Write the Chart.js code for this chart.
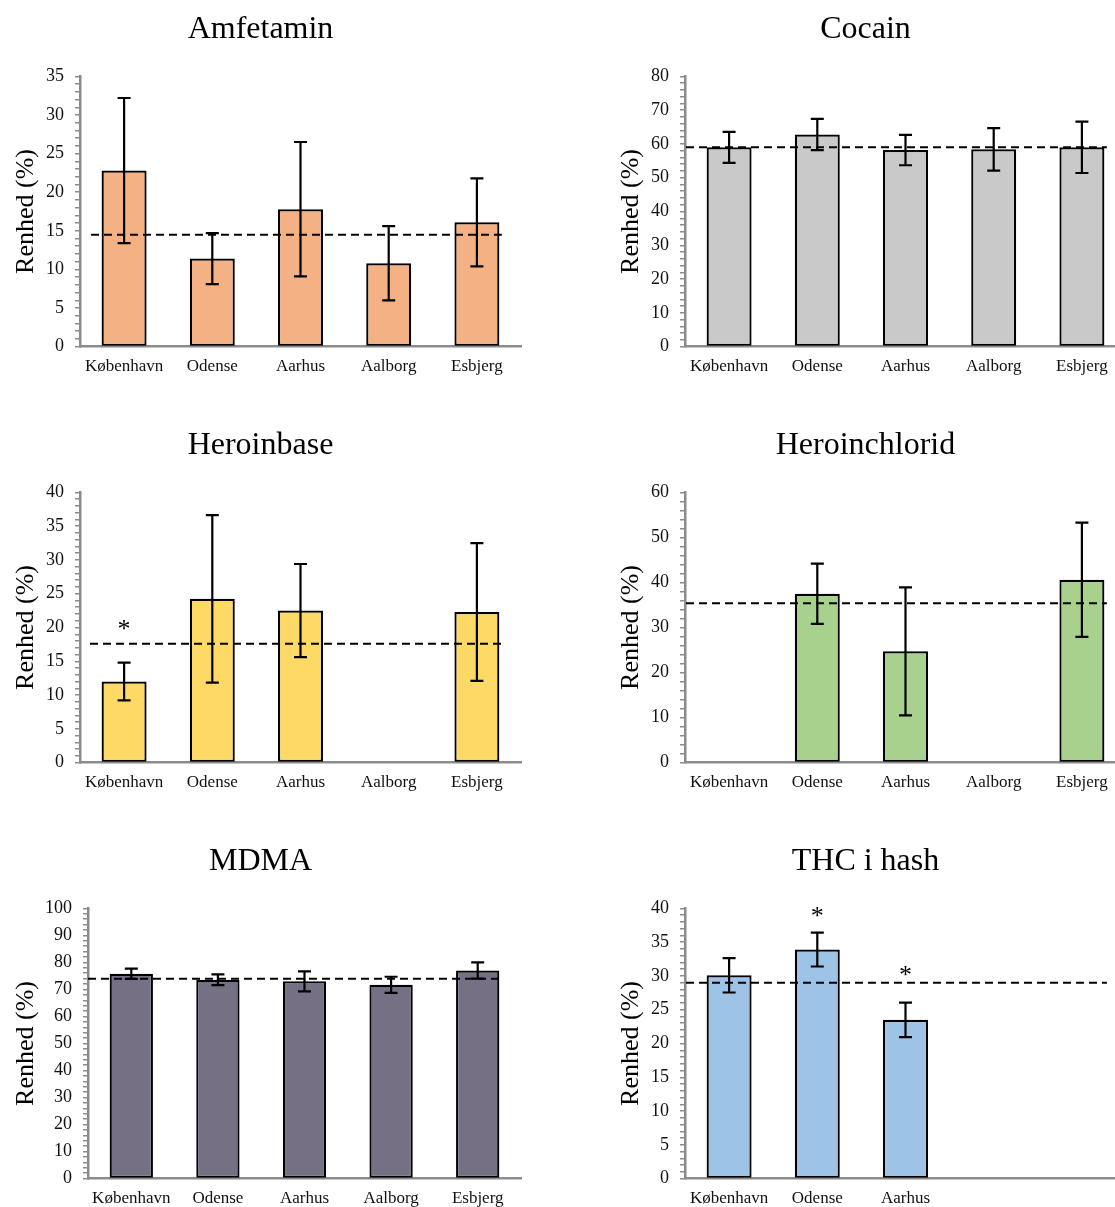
<!DOCTYPE html>
<html><head><meta charset="utf-8">
<script src="https://cdn.jsdelivr.net/npm/chart.js@4.4.0/dist/chart.umd.min.js"></script>
<style>
html,body{margin:0;padding:0;background:#fff;overflow:hidden;width:1115px;height:1207px;position:relative;}
canvas{position:absolute;}
</style></head><body>
<canvas id="c1" width="525" height="416" style="left:0;top:0"></canvas>
<canvas id="c2" width="525" height="416" style="left:605px;top:0"></canvas>
<canvas id="c3" width="525" height="416" style="left:0;top:416px"></canvas>
<canvas id="c4" width="525" height="416" style="left:605px;top:416px"></canvas>
<canvas id="c5" width="525" height="416" style="left:0;top:832px"></canvas>
<canvas id="c6" width="525" height="416" style="left:605px;top:832px"></canvas>
<script>
// ---- data ----
const cities = ['København', 'Odense', 'Aarhus', 'Aalborg', 'Esbjerg'];
const thcLabels = ['København', 'Odense', 'Aarhus', '', ''];

const amfetaminValues = [22.8, 11.4, 17.8, 10.8, 16.1];
const amfetaminErrors = [9.4, 3.3, 8.7, 4.8, 5.7];
const amfetaminMean = 14.5;
const amfetaminStars = [null, null, null, null, null];
const amfetaminTicks = [0, 35, 5, 1]; // min, max, major step, minor step

const cocainValues = [59.0, 62.8, 58.2, 58.4, 59.0];
const cocainErrors = [4.6, 4.65, 4.5, 6.3, 7.6];
const cocainMean = 59.0;
const cocainStars = [null, null, null, null, null];
const cocainTicks = [0, 80, 10, 2];

const heroinbaseValues = [12.0, 24.25, 22.5, null, 22.3];
const heroinbaseErrors = [2.8, 12.4, 6.9, null, 10.2];
const heroinbaseMean = 17.6;
const heroinbaseStars = [20.4, null, null, null, null];
const heroinbaseTicks = [0, 40, 5, 1];

const heroinchloridValues = [null, 37.5, 24.7, null, 40.6];
const heroinchloridErrors = [null, 6.7, 14.2, null, 12.7];
const heroinchloridMean = 35.4;
const heroinchloridStars = [null, null, null, null, null];
const heroinchloridTicks = [0, 60, 10, 2];

const mdmaValues = [75.8, 73.6, 73.0, 71.7, 77.0];
const mdmaErrors = [1.9, 2.0, 3.7, 3.0, 3.0];
const mdmaMean = 74.0;
const mdmaStars = [null, null, null, null, null];
const mdmaTicks = [0, 100, 10, 2];

const thcValues = [30.1, 33.9, 23.5, null, null];
const thcErrors = [2.55, 2.5, 2.55, null, null];
const thcMean = 29.0;
const thcStars = [null, 39.4, 30.7, null, null];
const thcTicks = [0, 40, 5, 1];

// ---- drawing ----
const SERIF = "'Liberation Serif', 'Times New Roman', serif";

function makeChart(id, cfg) {
  const [yMin, yMax, yMajor, yMinor] = cfg.ticks;
  const overlay = {
    id: 'overlay' + id,
    afterDatasetsDraw(chart) {
      const ctx = chart.ctx;
      const xs = chart.scales.x, ys = chart.scales.y;
      const meta = chart.getDatasetMeta(0);
      ctx.save();
      // mean line
      const ym = ys.getPixelForValue(cfg.mean);
      const xStart = chart.chartArea.left + cfg.lineStart;
      const xEnd = xs.getPixelForValue(cfg.labels.length - 1) + 25;
      ctx.strokeStyle = '#000';
      ctx.lineWidth = 2;
      ctx.setLineDash([8, 5]);
      ctx.beginPath(); ctx.moveTo(xStart, ym); ctx.lineTo(xEnd, ym); ctx.stroke();
      ctx.setLineDash([]);
      // error bars
      ctx.lineWidth = 2.2;
      meta.data.forEach((bar, i) => {
        const v = cfg.values[i], e = cfg.errors[i];
        if (v == null || e == null) return;
        const bx = xs.getPixelForValue(i);
        const yt = ys.getPixelForValue(v + e), yb = ys.getPixelForValue(v - e);
        ctx.beginPath();
        ctx.moveTo(bx, yt); ctx.lineTo(bx, yb);
        ctx.moveTo(bx - 6.5, yt); ctx.lineTo(bx + 6.5, yt);
        ctx.moveTo(bx - 6.5, yb); ctx.lineTo(bx + 6.5, yb);
        ctx.stroke();
      });
      // significance stars
      ctx.fillStyle = '#000';
      ctx.font = '26px ' + SERIF;
      ctx.textAlign = 'center';
      ctx.textBaseline = 'alphabetic';
      cfg.stars.forEach((s, i) => {
        if (s == null) return;
        const m = ctx.measureText('*');
        const py = ys.getPixelForValue(s);
        const off = (m.actualBoundingBoxAscent - m.actualBoundingBoxDescent) / 2;
        ctx.fillText('*', xs.getPixelForValue(i), py + off);
      });
      ctx.restore();
    }
  };
  const isMajor = v => Math.abs(v / yMajor - Math.round(v / yMajor)) < 1e-6;
  return new Chart(document.getElementById(id), {
    type: 'bar',
    data: {
      labels: cfg.labels,
      datasets: [{
        data: cfg.values,
        backgroundColor: cfg.color,
        borderColor: '#000',
        borderWidth: 2.2,
        borderSkipped: false,
        barPercentage: cfg.barPct,
        categoryPercentage: 1
      }]
    },
    options: {
      responsive: false,
      animation: false,
      devicePixelRatio: 1,
      layout: { padding: { left: 0, right: 4, top: 0, bottom: 29 } },
      plugins: {
        legend: { display: false },
        tooltip: { enabled: false },
        title: {
          display: true, text: cfg.title, color: '#000',
          font: { family: SERIF, size: 32, weight: 'normal' },
          padding: { top: 10, bottom: 28 }
        }
      },
      scales: {
        x: {
          z: 1,
          grid: { display: false, drawTicks: false },
          border: { color: '#8c8c8c', width: 2.5 },
          ticks: { color: '#111', font: { family: SERIF, size: 17 }, padding: 10, autoSkip: false, maxRotation: 0 }
        },
        y: {
          min: yMin, max: yMax,
          afterFit: s => { s.width = cfg.yWidth; },
          grid: { drawOnChartArea: false, drawTicks: true, tickLength: 5, color: '#8c8c8c', lineWidth: 1.5 },
          border: { color: '#8c8c8c', width: 2.5 },
          ticks: {
            stepSize: yMinor, autoSkip: false, maxTicksLimit: 1000, padding: 11,
            color: '#111', font: { family: SERIF, size: 18 },
            callback: v => isMajor(v) ? String(Math.round(v)) : ''
          },
          title: {
            display: true, text: 'Renhed (%)', color: '#000',
            font: { family: SERIF, size: 26 }, padding: { top: 11, bottom: 0 }
          }
        }
      }
    },
    plugins: [overlay]
  });
}

makeChart('c1', { title: 'Amfetamin', labels: cities, values: amfetaminValues, errors: amfetaminErrors, mean: amfetaminMean, stars: amfetaminStars, ticks: amfetaminTicks, color: '#F4B183', yWidth: 80, barPct: 0.51, lineStart: 11 });
makeChart('c2', { title: 'Cocain', labels: cities, values: cocainValues, errors: cocainErrors, mean: cocainMean, stars: cocainStars, ticks: cocainTicks, color: '#C9C9C9', yWidth: 80, barPct: 0.51, lineStart: 1 });
makeChart('c3', { title: 'Heroinbase', labels: cities, values: heroinbaseValues, errors: heroinbaseErrors, mean: heroinbaseMean, stars: heroinbaseStars, ticks: heroinbaseTicks, color: '#FFD966', yWidth: 80, barPct: 0.51, lineStart: 10 });
makeChart('c4', { title: 'Heroinchlorid', labels: cities, values: heroinchloridValues, errors: heroinchloridErrors, mean: heroinchloridMean, stars: heroinchloridStars, ticks: heroinchloridTicks, color: '#A9D18E', yWidth: 80, barPct: 0.51, lineStart: 1 });
makeChart('c5', { title: 'MDMA', labels: cities, values: mdmaValues, errors: mdmaErrors, mean: mdmaMean, stars: mdmaStars, ticks: mdmaTicks, color: '#757083', yWidth: 88, barPct: 0.5, lineStart: 0 });
makeChart('c6', { title: 'THC i hash', labels: thcLabels, values: thcValues, errors: thcErrors, mean: thcMean, stars: thcStars, ticks: thcTicks, color: '#9DC3E6', yWidth: 80, barPct: 0.51, lineStart: 1 });
</script>
</body></html>
